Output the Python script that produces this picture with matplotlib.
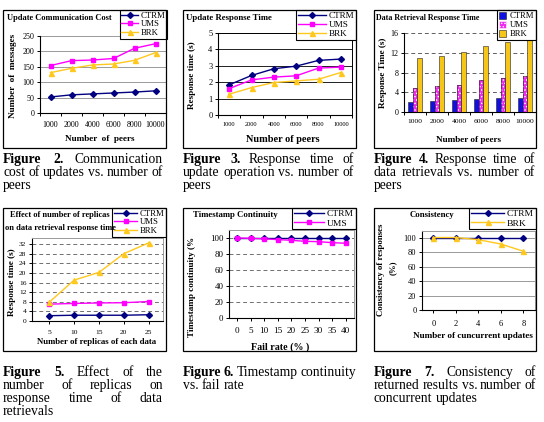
import matplotlib
matplotlib.use("Agg")
import matplotlib.pyplot as plt
from matplotlib.patches import Rectangle, Patch
from matplotlib.lines import Line2D
import numpy as np

plt.rcParams['font.family'] = ['Liberation Serif', 'DejaVu Serif']
plt.rcParams['hatch.linewidth'] = 0.6

# ---------------- data ----------------
peers = ['1000', '2000', '4000', '6000', '8000', '10000']
cost_ctrm = [52, 59, 62, 65, 68, 72]
cost_ums = [154, 170, 172, 177, 210, 225]
cost_brk = [131, 145, 156, 159, 171, 196]

upd_ctrm = [1.84, 2.41, 2.82, 2.98, 3.33, 3.41]
upd_ums = [1.61, 2.14, 2.31, 2.39, 2.86, 2.92]
upd_brk = [1.27, 1.67, 1.98, 2.08, 2.18, 2.59]

ret_ctrm = [2.1, 2.3, 2.5, 2.7, 2.9, 2.9]
ret_ums = [4.9, 5.2, 5.5, 6.5, 6.9, 7.3]
ret_brk = [10.9, 11.4, 12.2, 13.3, 14.2, 15.0]

replicas = ['5', '10', '15', '20', '25']
rep_ctrm = [2.2, 2.4, 2.4, 2.4, 2.6]
rep_ums = [7.0, 7.3, 7.5, 7.6, 8.1]
rep_brk = [7.8, 17.0, 20.2, 28.0, 32.5]

fail_rate = ['0', '5', '10', '15', '20', '25', '30', '35', '40']
ts_ctrm = [100, 100, 100, 100, 100, 100, 100, 100, 100]
ts_ums = [100, 99.6, 98.9, 98.0, 97.1, 95.9, 95.4, 94.2, 93.4]

conc_updates = ['0', '2', '4', '6', '8']
cons_ctrm = [100, 100, 100, 100, 100]
cons_brk = [100, 100, 97, 91, 81]

series_names = ['CTRM', 'UMS', 'BRK']

# ---------------- styles ----------------
C_CTRM = '#000080'
C_UMS = '#FF00FF'
C_BRK = '#FFC81E'
STY = {
    'CTRM': dict(color=C_CTRM, marker='D', ms=3.0, lw=1.0),
    'UMS': dict(color=C_UMS, marker='s', ms=3.2, lw=1.0),
    'BRK': dict(color=C_BRK, marker='^', ms=3.6, lw=1.0),
}

W, H = 544, 422
fig = plt.figure(figsize=(W / 100, H / 100), dpi=100)
fig.patch.set_facecolor('white')


def axes_px(x0, y0, x1, y1):
    return fig.add_axes([x0 / W, 1 - y1 / H, (x1 - x0) / W, (y1 - y0) / H])


def ftext(x, y, s, **kw):
    return fig.text(x / W, 1 - y / H, s, **kw)


def box(x0, y0, x1, y1):
    fig.add_artist(Rectangle((x0 / W, 1 - y1 / H), (x1 - x0) / W, (y1 - y0) / H,
                             transform=fig.transFigure, fill=False,
                             edgecolor='black', lw=0.9, zorder=5))


def style_axes(ax, n, ylim, yticks, grid_color, grid_ls, xlim=None,
               frame_color=None, xfs=5.5, yfs=5.5, labels=None, xlabel_pad=1.5):
    ax.set_ylim(*ylim)
    ax.set_yticks(yticks)
    ax.set_yticklabels([str(t) for t in yticks], fontsize=yfs)
    if xlim is None:
        xlim = (-0.5, n - 0.5)
    ax.set_xlim(*xlim)
    ax.set_xticks(np.arange(n))
    ax.set_xticklabels(labels, fontsize=xfs)
    ax.set_xticks(np.arange(n + 1) - 0.5, minor=True)
    ax.tick_params(axis='x', which='major', length=0, pad=xlabel_pad)
    ax.tick_params(axis='x', which='minor', length=2.5, width=0.7, direction='out')
    ax.tick_params(axis='y', length=2.5, width=0.7, direction='out', pad=1.5)
    for t in yticks:
        if t > 0:
            ax.axhline(t, color=grid_color, lw=0.7, ls=grid_ls, zorder=0.5)
    for s in ['left', 'bottom']:
        ax.spines[s].set_color('black')
        ax.spines[s].set_linewidth(0.8)
    for s in ['top', 'right']:
        if frame_color is None:
            ax.spines[s].set_visible(False)
        else:
            ax.spines[s].set_color(frame_color)
            ax.spines[s].set_linewidth(0.7)
    ax.set_facecolor('white')


def line_legend(ax, names, xr, yt, fs=6.3, hl=2.2):
    handles = [Line2D([], [], **STY[n]) for n in names]
    leg = ax.legend(handles, names, loc='upper right',
                    bbox_to_anchor=(xr / W, 1 - yt / H), bbox_transform=fig.transFigure,
                    fancybox=False, edgecolor='black', framealpha=1, fontsize=fs,
                    borderpad=0.2, handlelength=hl, handletextpad=0.3,
                    labelspacing=0.05, borderaxespad=0)
    leg.get_frame().set_linewidth(0.8)
    leg.set_zorder(10)
    return leg


TFS = 6.0   # title font size
LFS = 6.6   # axis label font size

# ---------------- Figure 2 ----------------
box(3, 10, 166, 148)
ax1 = axes_px(40, 36, 166, 113)
x = np.arange(len(peers))
for name, vals in zip(series_names, [cost_ctrm, cost_ums, cost_brk]):
    ax1.plot(x, vals, **STY[name], zorder=3)
style_axes(ax1, len(peers), (0, 250), [0, 50, 100, 150, 200, 250], '#9a9a9a', '-',
           labels=peers, xfs=5.8, yfs=5.8, xlabel_pad=6)
line_legend(ax1, series_names, 167, 10, fs=6.3, hl=1.9)
ftext(7, 18, 'Update Communication Cost', fontsize=TFS, fontweight='bold', va='center', ha='left')
ftext(13, 76, 'Number  of  messages', fontsize=LFS, fontweight='bold', rotation=90, va='center', ha='center')
ftext(100, 139, 'Number  of  peers', fontsize=LFS, fontweight='bold', va='center', ha='center')

# ---------------- Figure 3 ----------------
box(183, 10, 356, 148)
ax2 = axes_px(218, 33, 352, 115)
for name, vals in zip(series_names, [upd_ctrm, upd_ums, upd_brk]):
    ax2.plot(x, vals, **STY[name], zorder=3)
style_axes(ax2, len(peers), (0, 5), [0, 1, 2, 3, 4, 5], '#202020', '-',
           frame_color='black', labels=peers, xfs=4.6, yfs=6.0, xlabel_pad=5)
line_legend(ax2, series_names, 356, 10, fs=6.6, hl=3.0)
ftext(186, 18, 'Update Response Time', fontsize=TFS + 0.3, fontweight='bold', va='center', ha='left')
ftext(192, 75, 'Response time (s)', fontsize=LFS, fontweight='bold', rotation=90, va='center', ha='center')
ftext(283, 139, 'Number of peers', fontsize=LFS + 0.8, fontweight='bold', va='center', ha='center')

# ---------------- Figure 4 ----------------
box(374, 10, 536, 148)
ax3 = axes_px(404, 33, 536, 112)
bw = 0.22
ax3.bar(x - bw, ret_ctrm, bw, color='#1010E0', edgecolor='#202020', lw=0.4, zorder=3)
ax3.bar(x, ret_ums, bw, color='#F028F0', edgecolor='white', hatch='.....', lw=0, zorder=3)
ax3.bar(x, ret_ums, bw, fill=False, edgecolor='#202020', lw=0.4, zorder=3.1)
ax3.bar(x + bw, ret_brk, bw, color='#F5C518', edgecolor='#202020', lw=0.4, zorder=3)
style_axes(ax3, len(peers), (0, 16), [0, 4, 8, 12, 16], '#606060', (0, (4, 3)),
           labels=peers, xfs=5.4, yfs=5.8, xlabel_pad=5)
bar_handles = [Patch(facecolor='#1010E0', edgecolor='#202020', lw=0.4),
               Patch(facecolor='#F028F0', edgecolor='white', hatch='.....', lw=0.4),
               Patch(facecolor='#F5C518', edgecolor='#202020', lw=0.4)]
leg3 = ax3.legend(bar_handles, series_names, loc='upper right',
                  bbox_to_anchor=(536 / W, 1 - 10 / H), bbox_transform=fig.transFigure,
                  fancybox=False, edgecolor='black', framealpha=1, fontsize=6.2,
                  borderpad=0.2, handlelength=0.9, handleheight=0.9, handletextpad=0.4,
                  labelspacing=0.05, borderaxespad=0)
leg3.get_frame().set_linewidth(0.8)
leg3.set_zorder(10)
ftext(376, 18, 'Data Retrieval Response Time', fontsize=TFS - 0.2, fontweight='bold', va='center', ha='left')
ftext(383, 73, 'Response Time (s)', fontsize=LFS, fontweight='bold', rotation=90, va='center', ha='center')
ftext(468, 140, 'Number of peers', fontsize=LFS, fontweight='bold', va='center', ha='center')

# ---------------- Figure 5 ----------------
box(3, 208, 166, 351)
ax4 = axes_px(32, 238, 163, 321)
xr = np.arange(len(replicas))
for name, vals in zip(series_names, [rep_ctrm, rep_ums, rep_brk]):
    ax4.plot(xr, vals, **STY[name], zorder=3)
style_axes(ax4, len(replicas), (0, 34.5), [0, 4, 8, 12, 16, 20, 24, 28, 32], '#707070', (0, (4, 3)),
           xlim=(-0.69, 4.57), frame_color='#9a9a9a', labels=replicas, xfs=5.4, yfs=5.4, xlabel_pad=4)
ax4.set_xticks([], minor=True)
ax4.tick_params(axis='x', which='major', length=2.5, width=0.7, direction='out')
line_legend(ax4, series_names, 166, 208, fs=6.3, hl=2.6)
ftext(60, 215, 'Effect of number of replicas', fontsize=6.0, fontweight='bold', va='center', ha='center')
ftext(60, 228, 'on data retrieval response time', fontsize=6.0, fontweight='bold', va='center', ha='center')
ftext(12, 282, 'Response time (s)', fontsize=LFS, fontweight='bold', rotation=90, va='center', ha='center')
ftext(97, 342, 'Number of replicas of each data', fontsize=LFS - 0.3, fontweight='bold', va='center', ha='center')

# ---------------- Figure 6 ----------------
box(183, 208, 356, 351)
ax5 = axes_px(229, 230, 354, 318)
xf = np.arange(len(fail_rate))
for name, vals in zip(['CTRM', 'UMS'], [ts_ctrm, ts_ums]):
    ax5.plot(xf, vals, **STY[name], zorder=3)
style_axes(ax5, len(fail_rate), (0, 110), [0, 20, 40, 60, 80, 100], '#707070', (0, (4, 3)),
           xlim=(-0.59, 8.61), frame_color='#9a9a9a', labels=fail_rate, xfs=6.6, yfs=6.4, xlabel_pad=4)
ax5.set_xticks([], minor=True)
ax5.tick_params(axis='x', which='major', length=2.5, width=0.7, direction='out')
line_legend(ax5, ['CTRM', 'UMS'], 356, 208, fs=6.8, hl=3.2)
ftext(193, 215, 'Timestamp Continuity', fontsize=TFS + 0.3, fontweight='bold', va='center', ha='left')
ftext(192, 287, 'Timestamp continuity (%', fontsize=LFS, fontweight='bold', rotation=90, va='center', ha='center')
ftext(280, 347, 'Fail rate (% )', fontsize=LFS + 0.6, fontweight='bold', va='center', ha='center')

# ---------------- Figure 7 ----------------
box(374, 208, 536, 351)
ax6 = axes_px(422, 231, 535, 310)
xc = np.arange(len(conc_updates))
ax6.plot(xc, cons_ctrm, **STY['CTRM'], zorder=3)
ax6.plot(xc, cons_brk, **STY['BRK'], zorder=3)
style_axes(ax6, len(conc_updates), (0, 109), [0, 20, 40, 60, 80, 100], '#9a9a9a', '-',
           xlim=(-0.48, 4.51), frame_color='#9a9a9a', labels=conc_updates, xfs=6.0, yfs=6.0, xlabel_pad=5)
ax6.set_xticks([], minor=True)
ax6.tick_params(axis='x', which='major', length=2.5, width=0.7, direction='out')
line_legend(ax6, ['CTRM', 'BRK'], 536, 208, fs=6.8, hl=3.5)
ftext(410, 215, 'Consistency', fontsize=TFS + 0.3, fontweight='bold', va='center', ha='left')
ftext(381, 270, 'Consistency of responses', fontsize=LFS - 0.3, fontweight='bold', rotation=90, va='center', ha='center')
ftext(393, 268, '(%)', fontsize=LFS - 0.3, fontweight='bold', rotation=90, va='center', ha='center')
ftext(473, 336, 'Number of cuncurrent updates', fontsize=LFS, fontweight='bold', va='center', ha='center')

# ---------------- captions ----------------
renderer = fig.canvas.get_renderer()
CFS = 9.8


def caption_line(x0, x1, y, tokens, justify=True):
    texts = []
    for word, bold in tokens:
        t = ftext(0, y, word, fontsize=CFS, fontweight='bold' if bold else 'normal',
                  va='baseline', ha='left')
        texts.append(t)
    widths = [t.get_window_extent(renderer).width for t in texts]
    t1 = ftext(0, y, 'a b', fontsize=CFS)
    t2 = ftext(0, y, 'ab', fontsize=CFS)
    space = t1.get_window_extent(renderer).width - t2.get_window_extent(renderer).width
    t1.remove()
    t2.remove()
    if justify and len(texts) > 1:
        gap = (x1 - x0 - sum(widths)) / (len(texts) - 1)
    else:
        gap = space
    cx = x0
    for t, w in zip(texts, widths):
        t.set_x(cx / W)
        cx += w + gap


def caption(x0, x1, y0, lines, dy=13):
    for i, line in enumerate(lines):
        tokens = []
        for j, w in enumerate(line.split(' ')):
            tokens.append((w, i == 0 and j < 2))
        caption_line(x0, x1, y0 + i * dy, tokens, justify=(i < len(lines) - 1))


caption(3, 163, 163, ['Figure 2. Communication', 'cost of updates vs. number of', 'peers'])
caption(183, 354, 163, ['Figure 3. Response time of', 'update operation vs. number of', 'peers'])
caption(374, 535, 163, ['Figure 4. Response time of', 'data retrievals vs. number of', 'peers'])
caption(3, 163, 376, ['Figure 5. Effect of the', 'number of replicas on', 'response time of data', 'retrievals'])
caption(183, 356, 376, ['Figure 6. Timestamp continuity', 'vs. fail rate'])
caption(374, 536, 376, ['Figure 7. Consistency of', 'returned results vs. number of', 'concurrent updates'])

fig.savefig('out.png', dpi=100, facecolor='white')
